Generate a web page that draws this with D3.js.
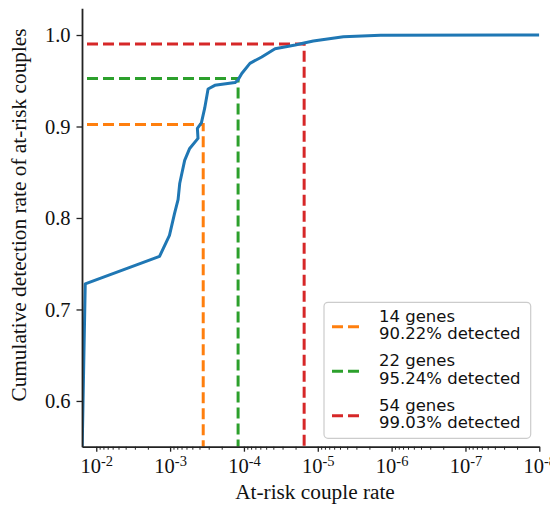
<!DOCTYPE html>
<meta charset="utf-8">
<html>
<head>
<script src="https://cdnjs.cloudflare.com/ajax/libs/d3/7.8.5/d3.min.js"></script>
<style>
body { margin: 0; background: white; }
.tickLabel { font-family: "Liberation Serif", "Times New Roman", serif; font-size: 20.5px; fill: #111; }
.axisLabel { font-family: "Liberation Serif", "Times New Roman", serif; font-size: 21.3px; fill: #111; }
.legendText { font-family: "DejaVu Sans", sans-serif; font-size: 16.5px; fill: #111; }
</style>
</head>
<body>
<script>

// at-risk couple rate (x) vs cumulative detection rate (y)
var coupleRate = [1.55e-2, 1.41e-2, 1.39e-3, 1.02e-3, 8.7e-4, 7.8e-4, 7.4e-4, 6.35e-4,
                  5.43e-4, 4.19e-4, 4.27e-4, 3.77e-4, 3.40e-4, 3.06e-4, 2.48e-4, 1.32e-4,
                  1.20e-4, 1.07e-4, 8.3e-5, 5.74e-5, 3.79e-5, 2.02e-5, 1.48e-5, 1.15e-5,
                  4.5e-6, 1.41e-6, 1e-8];
var detectionRate = [0.55, 0.728, 0.758, 0.781, 0.805, 0.820, 0.838, 0.863,
                     0.876, 0.887, 0.898, 0.904, 0.920, 0.941, 0.945, 0.948,
                     0.951, 0.958, 0.969, 0.976, 0.985, 0.989, 0.9916, 0.9934,
                     0.998, 0.9997, 1.0];

// gene panel cut-offs
var panelGenes    = [14, 22, 54];
var panelDetected = [0.9022, 0.9524, 0.9903];
var panelRate     = [3.56e-4, 1.20e-4, 1.53e-5];
var panelColors   = ["#ff7f0e", "#2ca02c", "#d62728"];

var yTicks = [0.6, 0.7, 0.8, 0.9, 1.0];
var xMajor = [1e-2, 1e-3, 1e-4, 1e-5, 1e-6, 1e-7, 1e-8];
var xExp   = ["-2", "-3", "-4", "-5", "-6", "-7", "-8"];

var width = 550, height = 507;
// NOTE: "top" is taken by window.top, so plot edges get their own names
var plotLeft = 82, plotRight = 539.3, plotTop = 8.3, plotBottom = 446.7;

var svg = d3.select("body").append("svg")
  .attr("width", width)
  .attr("height", height);

var x = d3.scaleLog()
  .domain([1.56e-2, 1e-8])
  .range([plotLeft, plotRight]);

var y = d3.scaleLinear()
  .domain([0.55, 1.0292])
  .range([plotBottom, plotTop]);

svg.append("clipPath").attr("id", "plotArea")
  .append("rect")
  .attr("x", plotLeft).attr("y", plotTop)
  .attr("width", plotRight - plotLeft).attr("height", plotBottom - plotTop);

// minor ticks 2..9 x 10^k
var xMinor = [];
for (var k = -8; k <= -2; k++) {
  for (var m = 2; m <= 9; m++) {
    var v = m * Math.pow(10, k);
    if (v < 1.56e-2 && v > 1e-8) xMinor.push(v);
  }
}

var plot = svg.append("g").attr("clip-path", "url(#plotArea)");

// dashed cut-off lines: across from y axis, then down to x axis
var cutLine = d3.line();
plot.selectAll(".cut")
  .data(panelGenes)
  .enter().append("path")
  .attr("class", "cut")
  .attr("d", function(d, i) {
    return cutLine([[plotLeft, y(panelDetected[i])], [x(panelRate[i]), y(panelDetected[i])],
                    [x(panelRate[i]), plotBottom]]);
  })
  .style("fill", "none")
  .style("stroke", function(d, i) { return panelColors[i]; })
  .style("stroke-width", 3)
  .style("stroke-dasharray", "11,5")
  .style("stroke-dashoffset", 11);

// detection curve
var curve = d3.line()
  .x(function(d, i) { return x(coupleRate[i]); })
  .y(function(d) { return y(d); });

plot.append("path")
  .datum(detectionRate)
  .attr("d", curve)
  .style("fill", "none")
  .style("stroke", "#1f77b4")
  .style("stroke-width", 3)
  .style("stroke-linejoin", "round");

// x axis -------------------------------------------------------------------
svg.append("g")
  .attr("transform", "translate(0," + plotBottom + ")")
  .call(d3.axisBottom(x).tickValues(xMinor).tickSize(3).tickSizeOuter(0).tickFormat(""))
  .call(function(g) { g.select(".domain").remove(); })
  .selectAll("line").style("stroke", "#222").style("stroke-width", 1);

var xAxis = svg.append("g")
  .attr("transform", "translate(0," + plotBottom + ")")
  .call(d3.axisBottom(x).tickValues(xMajor).tickSize(5).tickSizeOuter(0).tickFormat(""));

xAxis.select(".domain").style("stroke", "#222").style("stroke-width", 1.8);
xAxis.selectAll(".tick line").style("stroke", "#222").style("stroke-width", 1.3);

xAxis.selectAll(".tick text")
  .attr("class", "tickLabel")
  .attr("y", 26.5)
  .attr("dy", 0)
  .each(function(d, i) {
    var t = d3.select(this);
    t.append("tspan").text("10");
    t.append("tspan").attr("dy", -7.5).style("font-size", "14.5px").text(xExp[i]);
  });

// y axis -------------------------------------------------------------------
var yAxis = svg.append("g")
  .attr("transform", "translate(" + plotLeft + ",0)")
  .call(d3.axisLeft(y).tickValues(yTicks).tickSize(5.5).tickPadding(6)
    .tickSizeOuter(0).tickFormat(d3.format(".1f")));

yAxis.select(".domain").style("stroke", "#222").style("stroke-width", 1.8);
yAxis.selectAll(".tick line").style("stroke", "#222").style("stroke-width", 1.3);
yAxis.selectAll(".tick text").attr("class", "tickLabel");

// axis labels
svg.append("text")
  .attr("class", "axisLabel")
  .attr("x", 315)
  .attr("y", 499)
  .style("text-anchor", "middle")
  .text("At-risk couple rate");

svg.append("text")
  .attr("class", "axisLabel")
  .attr("transform", "translate(25.8,215) rotate(-90)")
  .style("text-anchor", "middle")
  .text("Cumulative detection rate of at-risk couples");

// legend -------------------------------------------------------------------
var legend = svg.append("g");

legend.append("rect")
  .attr("x", 324).attr("y", 302.3)
  .attr("width", 206.7).attr("height", 136)
  .attr("rx", 4)
  .style("fill", "white").style("fill-opacity", 0.8)
  .style("stroke", "#cccccc").style("stroke-width", 1.2);

var entries = legend.selectAll(".entry")
  .data(panelGenes)
  .enter().append("g")
  .attr("class", "entry")
  .attr("transform", function(d, i) { return "translate(0," + (i * 44.5) + ")"; });

entries.append("line")
  .attr("x1", 332).attr("x2", 360)
  .attr("y1", 326.7).attr("y2", 326.7)
  .style("stroke", function(d, i) { return panelColors[i]; })
  .style("stroke-width", 3)
  .style("stroke-dasharray", "11,5");

entries.append("text")
  .attr("class", "legendText")
  .attr("x", 379).attr("y", 321.7)
  .text(function(d) { return d + " genes"; });

entries.append("text")
  .attr("class", "legendText")
  .attr("x", 379).attr("y", 339)
  .text(function(d, i) { return (panelDetected[i] * 100).toFixed(2) + "% detected"; });

</script>
</body>
</html>
